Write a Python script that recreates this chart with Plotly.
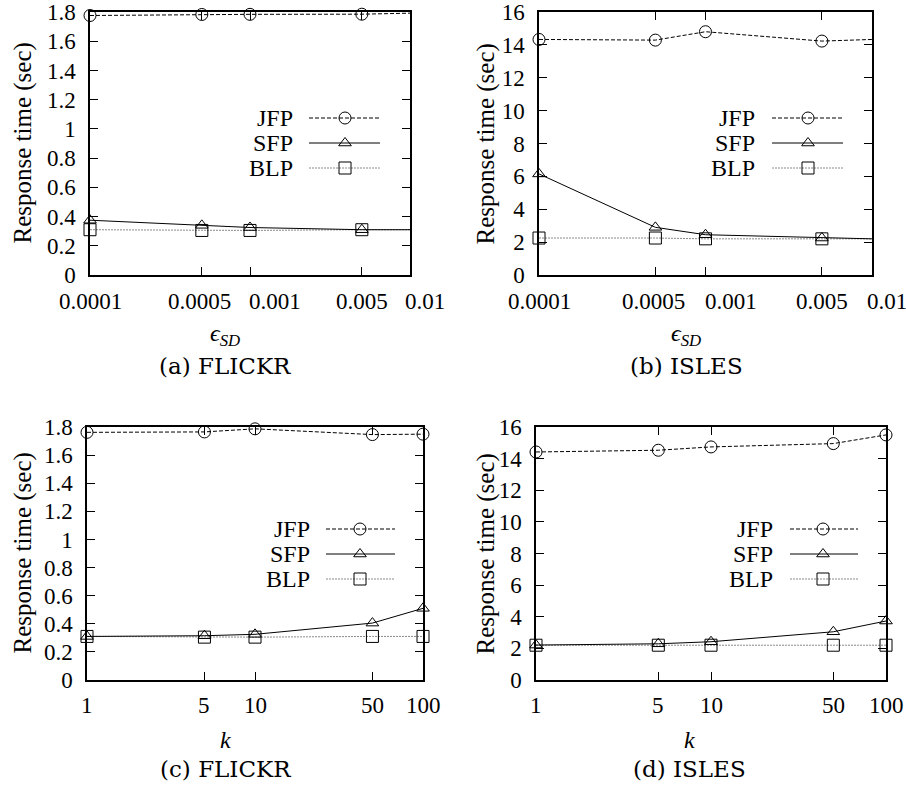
import math
import plotly.graph_objects as go

# ---------------- data ----------------
eps = [0.0001, 0.0005, 0.001, 0.005, 0.01]
eps_labels = ["0.0001", "0.0005", "0.001", "0.005", "0.01"]
kvals = [1, 5, 10, 50, 100]
k_labels = ["1", "5", "10", "50", "100"]

a_jfp = [1.776, 1.783, 1.784, 1.785, 1.792]
a_sfp = [0.375, 0.34, 0.325, 0.31, 0.31]
a_blp = [0.31, 0.305, 0.305, 0.31, 0.31]

b_jfp = [14.33, 14.29, 14.8, 14.23, 14.33]
b_sfp = [6.15, 2.9, 2.45, 2.25, 2.2]
b_blp = [2.25, 2.25, 2.2, 2.2, 2.2]

c_jfp = [1.762, 1.765, 1.787, 1.746, 1.749]
c_sfp = [0.31, 0.315, 0.325, 0.405, 0.51]
c_blp = [0.31, 0.305, 0.305, 0.31, 0.31]

d_jfp = [14.42, 14.53, 14.74, 14.95, 15.5]
d_sfp = [2.21, 2.29, 2.42, 3.05, 3.73]
d_blp = [2.2, 2.2, 2.2, 2.2, 2.2]

series_names = ["JFP", "SFP", "BLP"]
captions = ["(a) FLICKR", "(b) ISLES", "(c) FLICKR", "(d) ISLES"]
xtitles = ["<i>ϵ</i><sub><i>SD</i></sub>", "<i>ϵ</i><sub><i>SD</i></sub>", "<i>k</i>", "<i>k</i>"]
ytitle = "Response time (sec)"

# ---------------- style ----------------
W, H = 906, 787
FONT = "Liberation Serif"
CAPFONT = "DejaVu Serif"
styles = {
    "JFP": dict(line=dict(color="black", width=1, dash="4px,2px"),
                marker=dict(symbol="circle-open", size=12, color="black", line=dict(width=1))),
    "SFP": dict(line=dict(color="black", width=1),
                marker=dict(symbol="triangle-up-open", size=11, color="black", line=dict(width=1))),
    "BLP": dict(line=dict(color="#8a8a8a", width=1, dash="2px,1px"),
                marker=dict(symbol="square-open", size=12, color="black", line=dict(width=1))),
}
# label placement of the epsilon tick labels (as in the original, two are set off to the right)
eps_anchor = ["center", "center", "left", "center", "left"]
eps_shift = [0, -2, -3, 0, -7]

# panels: (x pixel left, right, y pixel top, bottom)
panels = [
    dict(px=(90, 410), py=(12, 275), x=eps, xt=eps_labels, xr=[-4, -2], yr=[0, 1.8], dt=0.2,
         data=[a_jfp, a_sfp, a_blp], cx=225, ytx=22, xty=335, capy=366, tly=301,
         leg=dict(tx=295, l0=309, l1=380, m=345, ys=[118, 143, 168])),
    dict(px=(539, 872), py=(12, 275), x=eps, xt=eps_labels, xr=[-4, -2], yr=[0, 16], dt=2,
         data=[b_jfp, b_sfp, b_blp], cx=686, ytx=485, xty=335, capy=366, tly=301,
         leg=dict(tx=757, l0=772, l1=843, m=808, ys=[118, 143, 168])),
    dict(px=(87, 423), py=(427, 680), x=kvals, xt=k_labels, xr=[0, 2], yr=[0, 1.8], dt=0.2,
         data=[c_jfp, c_sfp, c_blp], cx=225, ytx=22, xty=740, capy=769, tly=705,
         leg=dict(tx=312, l0=326, l1=395, m=360, ys=[529, 554, 579])),
    dict(px=(536, 886), py=(427, 680), x=kvals, xt=k_labels, xr=[0, 2], yr=[0, 16], dt=2,
         data=[d_jfp, d_sfp, d_blp], cx=689, ytx=485, xty=740, capy=769, tly=705,
         leg=dict(tx=775, l0=790, l1=858, m=823, ys=[529, 554, 579])),
]

fig = go.Figure()
layout = dict(template="none", width=W, height=H, margin=dict(l=0, r=0, t=0, b=0, pad=0),
              paper_bgcolor="white", plot_bgcolor="rgba(0,0,0,0)", showlegend=False,
              font=dict(family=FONT, color="black"))
annotations = []

for i, p in enumerate(panels):
    n = i + 1
    xa = "xaxis" if n == 1 else f"xaxis{n}"
    ya = "yaxis" if n == 1 else f"yaxis{n}"
    xr_ = "x" if n == 1 else f"x{n}"
    yr_ = "y" if n == 1 else f"y{n}"
    layout[xa] = dict(
        domain=[p["px"][0] / W, p["px"][1] / W], anchor=yr_, type="log", automargin=False,
        range=p["xr"], tickvals=p["x"], showticklabels=False, ticks="inside", ticklen=8,
        tickcolor="black", tickwidth=1, showline=True, linecolor="black", linewidth=1.5,
        mirror="ticks", showgrid=False, zeroline=False, fixedrange=True)
    layout[ya] = dict(
        domain=[1 - p["py"][1] / H, 1 - p["py"][0] / H], anchor=xr_, automargin=False,
        range=p["yr"], dtick=p["dt"], tick0=0, ticks="inside", ticklen=8,
        tickcolor="black", tickwidth=1, showline=True, linecolor="black", linewidth=1.5,
        mirror="ticks", showgrid=False, zeroline=False, fixedrange=True,
        tickfont=dict(family=FONT, size=23, color="black"), ticklabelstandoff=8)
    # x tick labels, placed at the axis tick values
    is_eps = p["x"] is eps
    for j, (v, t) in enumerate(zip(p["x"], p["xt"])):
        annotations.append(dict(
            text=t, x=math.log10(v), xref=xr_, y=1 - p["tly"] / H, yref="paper",
            showarrow=False, yanchor="middle",
            xanchor=eps_anchor[j] if is_eps else "center",
            xshift=eps_shift[j] if is_eps else 0,
            font=dict(family=FONT, size=23, color="black")))
    # data traces (BLP first so others draw on top)
    for name, ys in reversed(list(zip(series_names, p["data"]))):
        st = styles[name]
        fig.add_trace(go.Scatter(x=p["x"], y=ys, mode="lines+markers", name=name,
                                 line=st["line"], marker=st["marker"], cliponaxis=False,
                                 xaxis=xr_, yaxis=yr_))
    # axis titles & captions
    annotations.append(dict(text=ytitle, x=p["ytx"] / W, y=1 - (p["py"][0] + p["py"][1]) / 2 / H,
                            xref="paper", yref="paper", textangle=-90, showarrow=False,
                            font=dict(family=FONT, size=25), xanchor="center", yanchor="middle"))
    annotations.append(dict(text=xtitles[i], x=p["cx"] / W, y=1 - p["xty"] / H,
                            xref="paper", yref="paper", showarrow=False,
                            font=dict(family=FONT, size=24), xanchor="center", yanchor="middle"))
    annotations.append(dict(text=captions[i], x=p["cx"] / W, y=1 - p["capy"] / H,
                            xref="paper", yref="paper", showarrow=False,
                            font=dict(family=CAPFONT, size=23), xanchor="center",
                            yanchor="middle"))

# full-page pixel axis for the in-plot legends
layout["xaxis9"] = dict(domain=[0, 1], range=[0, W], visible=False, fixedrange=True,
                        anchor="y9", automargin=False)
layout["yaxis9"] = dict(domain=[0, 1], range=[H, 0], visible=False, fixedrange=True,
                        anchor="x9", automargin=False)
for p in panels:
    lg = p["leg"]
    for name, yy in zip(series_names, lg["ys"]):
        st = styles[name]
        fig.add_trace(go.Scatter(x=[lg["l0"], lg["m"], lg["l1"]], y=[yy, yy, yy],
                                 mode="lines", line=st["line"], xaxis="x9", yaxis="y9",
                                 hoverinfo="skip"))
        fig.add_trace(go.Scatter(x=[lg["m"]], y=[yy], mode="markers", marker=st["marker"],
                                 xaxis="x9", yaxis="y9", hoverinfo="skip", cliponaxis=False))
        annotations.append(dict(text=name, x=lg["tx"], y=yy, xref="x9", yref="y9",
                                showarrow=False, xanchor="right", yanchor="middle",
                                font=dict(family=FONT, size=24)))

layout["annotations"] = annotations
fig.update_layout(**layout)
fig.write_html("out.html", config={"displayModeBar": False},
               post_script="document.body.style.margin='0';")
